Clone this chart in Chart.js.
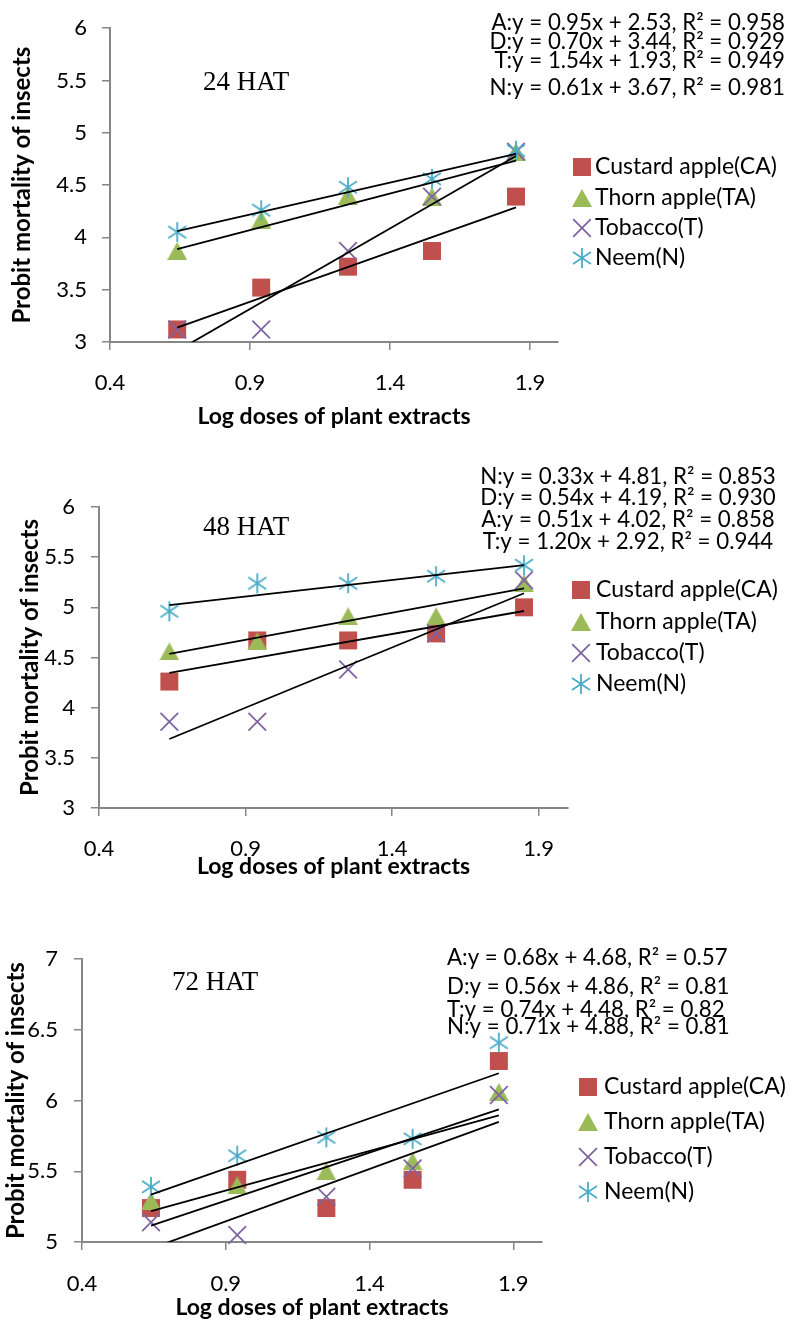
<!DOCTYPE html>
<html>
<head>
<meta charset="utf-8">
<script src="https://cdn.jsdelivr.net/npm/chart.js@4.4.0/dist/chart.umd.min.js"></script>
<style>
  body { margin: 0; background: #fff; }
  .box { position: absolute; left: 0; width: 791px; }
</style>
</head>
<body>
<div class="box" style="top:0px;height:440px"><canvas id="c24" width="791" height="440"></canvas></div>
<div class="box" style="top:450px;height:430px"><canvas id="c48" width="791" height="430"></canvas></div>
<div class="box" style="top:930px;height:392px"><canvas id="c72" width="791" height="392"></canvas></div>
<script>
// shared
const doses = [0.64, 0.94, 1.25, 1.55, 1.85];
const xTicks = [0.4, 0.9, 1.4, 1.9];
const seriesNames = ['Custard apple(CA)', 'Thorn apple(TA)', 'Tobacco(T)', 'Neem(N)'];

// 24 HAT
const ca24 = [3.12, 3.52, 3.72, 3.87, 4.39];
const ta24 = [3.87, 4.17, 4.40, 4.39, 4.82];
const tob24 = [3.12, 3.12, 3.87, 4.39, 4.82];
const neem24 = [4.05, 4.26, 4.48, 4.56, 4.83];
const slope24 = [0.95, 0.70, 1.54, 0.61];
const icpt24 = [2.53, 3.44, 1.93, 3.67];
const yTicks24 = [3, 3.5, 4, 4.5, 5, 5.5, 6];
const eq24 = ['A:y = 0.95x + 2.53, R² = 0.958', 'D:y = 0.70x + 3.44, R² = 0.929',
              'T:y = 1.54x + 1.93, R² = 0.949', 'N:y = 0.61x + 3.67, R² = 0.981'];

// 48 HAT
const ca48 = [4.26, 4.67, 4.67, 4.74, 5.00];
const ta48 = [4.56, 4.66, 4.91, 4.91, 5.24];
const tob48 = [3.86, 3.86, 4.38, 4.74, 5.27];
const neem48 = [4.96, 5.24, 5.24, 5.31, 5.42];
const slope48 = [0.51, 0.54, 1.20, 0.33];
const icpt48 = [4.02, 4.19, 2.92, 4.81];
const yTicks48 = [3, 3.5, 4, 4.5, 5, 5.5, 6];
const eq48 = ['N:y = 0.33x + 4.81, R² = 0.853', 'D:y = 0.54x + 4.19, R² = 0.930',
              'A:y = 0.51x + 4.02, R² = 0.858', 'T:y = 1.20x + 2.92, R² = 0.944'];

// 72 HAT
const ca72 = [5.24, 5.44, 5.24, 5.44, 6.28];
const ta72 = [5.29, 5.40, 5.50, 5.57, 6.06];
const tob72 = [5.14, 5.05, 5.32, 5.52, 6.04];
const neem72 = [5.39, 5.61, 5.74, 5.73, 6.41];
const slope72 = [0.68, 0.56, 0.74, 0.71];
const icpt72 = [4.68, 4.86, 4.48, 4.88];
const yTicks72 = [5, 5.5, 6, 6.5, 7];
const eq72 = ['A:y = 0.68x + 4.68, R² = 0.57', 'D:y = 0.56x + 4.86, R² = 0.81',
              'T:y = 0.74x + 4.48, R² = 0.82', 'N:y = 0.71x + 4.88, R² = 0.81'];

const colors = ['#C0504D', '#9BBB59', '#8064A2', '#4BACC6'];
const axisGrey = '#868686';
const FONT = 'Lato';

// marker images for triangle and asterisk (centred on their box like Excel)
function triImg() {
  const c = document.createElement('canvas');
  c.width = 20; c.height = 18;
  const g = c.getContext('2d');
  g.fillStyle = colors[1];
  g.beginPath(); g.moveTo(10, 0); g.lineTo(20, 18); g.lineTo(0, 18); g.closePath(); g.fill();
  return c;
}
function starImg() {
  const c = document.createElement('canvas');
  c.width = 22; c.height = 22;
  const g = c.getContext('2d');
  g.strokeStyle = colors[3]; g.lineWidth = 1.8;
  g.beginPath();
  g.moveTo(11, 1); g.lineTo(11, 21);
  g.moveTo(2, 5); g.lineTo(20, 17);
  g.moveTo(20, 5); g.lineTo(2, 17);
  g.stroke();
  return c;
}
const tri = triImg();
const star = starImg();

const sideLegend = {
  id: 'sideLegend',
  afterDraw(chart, args, opts) {
    const ctx = chart.ctx;
    ctx.save();
    ctx.font = opts.font;
    ctx.textBaseline = 'middle';
    ctx.textAlign = 'left';
    chart.data.datasets.filter(d => d.inLegend).forEach((d, i) => {
      const y = opts.ys[i];
      ctx.fillStyle = d.backgroundColor;
      ctx.strokeStyle = d.borderColor;
      ctx.lineWidth = d.borderWidth;
      Chart.helpers.drawPoint(ctx, {pointStyle: d.pointStyle, radius: d.pointRadius, rotation: 0, borderWidth: d.borderWidth}, opts.x, y);
      ctx.fillStyle = '#000';
      ctx.fillText(d.label, opts.textX, y);
    });
    ctx.restore();
  }
};

const notes = {
  id: 'notes',
  afterDraw(chart, args, opts) {
    const ctx = chart.ctx;
    ctx.save();
    ctx.fillStyle = '#000';
    ctx.textBaseline = 'middle';
    opts.items.forEach(n => {
      ctx.font = n.font;
      ctx.textAlign = n.align;
      ctx.fillText(n.text, n.x, n.y);
    });
    ctx.restore();
  }
};

function pts(ys) {
  return doses.map((x, i) => ({x: x, y: ys[i]}));
}

function trend(m, b) {
  const x0 = doses[0], x1 = doses[doses.length - 1];
  return {
    data: [{x: x0, y: m * x0 + b}, {x: x1, y: m * x1 + b}],
    showLine: true, pointRadius: 0, borderColor: '#000', borderWidth: 1.8,
    clip: 0, order: 0
  };
}

function buildChart(id, c) {
  const series = [
    {label: seriesNames[0], data: pts(c.ca), pointStyle: 'rect', pointRadius: 12.7,
     backgroundColor: colors[0], borderColor: colors[0], borderWidth: 0, order: 4},
    {label: seriesNames[1], data: pts(c.ta), pointStyle: tri, pointRadius: 10,
     backgroundColor: colors[1], borderColor: colors[1], borderWidth: 0, order: 3},
    {label: seriesNames[2], data: pts(c.tob), pointStyle: 'crossRot', pointRadius: 12.5,
     backgroundColor: colors[2], borderColor: colors[2], borderWidth: 1.8, order: 2},
    {label: seriesNames[3], data: pts(c.neem), pointStyle: star, pointRadius: 10,
     backgroundColor: colors[3], borderColor: colors[3], borderWidth: 0, order: 1}
  ].map(d => Object.assign(d, {inLegend: true, clip: false, pointHoverRadius: d.pointRadius}));
  const lines = c.slope.map((m, i) => trend(m, c.icpt[i]));

  new Chart(document.getElementById(id), {
    type: 'scatter',
    data: {datasets: lines.concat(series)},
    options: {
      responsive: false,
      animation: false,
      events: [],
      layout: {padding: {top: c.padTop, right: c.padRight, bottom: 0, left: 0}},
      plugins: {
        legend: {display: false},
        tooltip: {enabled: false},
        sideLegend: {x: c.legX, textX: c.legTextX, ys: c.legYs, font: '23px ' + FONT},
        notes: {items: c.notes}
      },
      scales: {
        x: {
          type: 'linear', min: 0.4, max: 2.0,
          afterBuildTicks: s => { s.ticks = xTicks.map(v => ({value: v})); },
          afterFit: s => { s.height = c.xH; },
          ticks: {color: '#000', font: {family: FONT, size: 22}, padding: c.xPad, callback: v => String(v)},
          grid: {drawOnChartArea: false, tickLength: 8, color: axisGrey, lineWidth: 1.5},
          border: {color: axisGrey, width: 2},
          title: {display: true, text: 'Log doses of plant extracts', color: '#000',
                  font: {family: FONT, size: 23, weight: 'bold', lineHeight: 1.2},
                  padding: {top: 0, bottom: c.xtPad}}
        },
        y: {
          type: 'linear', min: c.yTicks[0], max: c.yTicks[c.yTicks.length - 1],
          afterBuildTicks: s => { s.ticks = c.yTicks.map(v => ({value: v})); },
          afterFit: s => { s.width = c.yW; },
          ticks: {color: '#000', font: {family: FONT, size: 22}, padding: c.yPad, callback: v => String(v)},
          grid: {drawOnChartArea: false, tickLength: 8, color: axisGrey, lineWidth: 1.5},
          border: {color: axisGrey, width: 2},
          title: {display: true, text: 'Probit mortality of insects', color: '#000',
                  font: {family: FONT, size: 24, weight: 'bold', lineHeight: 1.2},
                  padding: {top: c.ytPad, bottom: 0}}
        }
      }
    },
    plugins: [sideLegend, notes]
  });
}

const eqFont = '22.3px ' + FONT;
const hatFont = '27px "Liberation Serif"';

buildChart('c24', {
  ca: ca24, ta: ta24, tob: tob24, neem: neem24, slope: slope24, icpt: icpt24, yTicks: yTicks24,
  padTop: 18, padRight: 233, yW: 110, xH: 98, xPad: 20, yPad: 15, xtPad: 10, ytPad: 8,
  legX: 582, legTextX: 595, legYs: [167, 198, 228, 258],
  notes: [{text: '24 HAT', x: 203, y: 83, align: 'left', font: hatFont}]
    .concat(eq24.map((t, i) => ({text: t, x: 785, y: [23, 42, 61, 88][i], align: 'right', font: eqFont})))
});

buildChart('c48', {
  ca: ca48, ta: ta48, tob: tob48, neem: neem48, slope: slope48, icpt: icpt48, yTicks: yTicks48,
  padTop: 57, padRight: 223, yW: 99, xH: 72, xPad: 20, yPad: 16, xtPad: 0, ytPad: 16,
  legX: 581, legTextX: 596, legYs: [140, 172, 203, 234],
  notes: [{text: '48 HAT', x: 203, y: 78, align: 'left', font: hatFont}]
    .concat(eq48.map((t, i) => ({text: t, x: 628, y: [27, 48, 70, 92][i], align: 'center', font: eqFont})))
});

buildChart('c72', {
  ca: ca72, ta: ta72, tob: tob72, neem: neem72, slope: slope72, icpt: icpt72, yTicks: yTicks72,
  padTop: 23, padRight: 249, yW: 82, xH: 80, xPad: 21, yPad: 16, xtPad: 1, ytPad: 2,
  legX: 588, legTextX: 604, legYs: [157, 192, 227, 262],
  notes: [{text: '72 HAT', x: 172, y: 53, align: 'left', font: hatFont}]
    .concat(eq72.map((t, i) => ({text: t, x: 447, y: [28, 57, 80, 97][i], align: 'left', font: eqFont})))
});
</script>
</body>
</html>
